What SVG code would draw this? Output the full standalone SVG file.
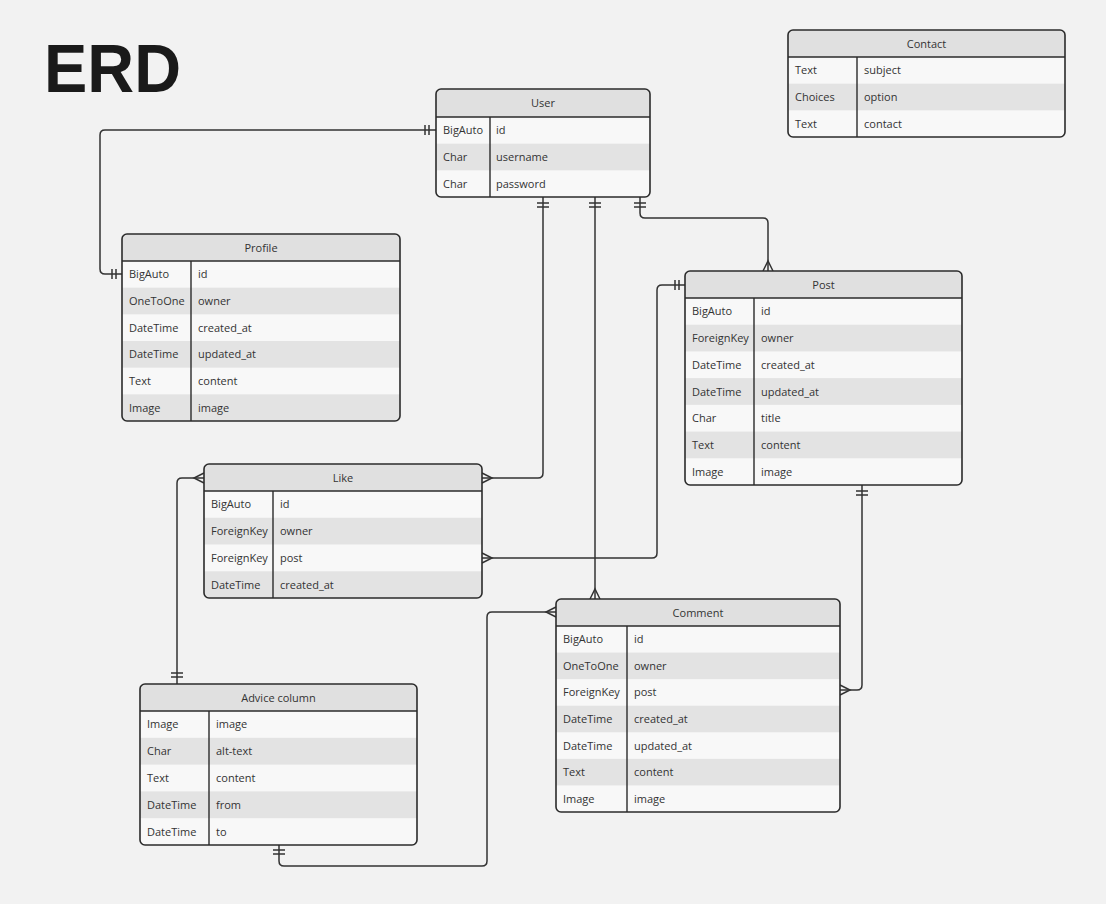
<svg xmlns="http://www.w3.org/2000/svg" width="1106" height="904" viewBox="0 0 1106 904">
<style>
.bg{fill:#f2f2f2}
.base{fill:#f8f8f8}
.hdr{fill:#e0e0e0}
.alt{fill:#e3e3e3}
.frame{fill:none;stroke:#2b2b2b;stroke-width:1.6}
.ln{stroke:#2b2b2b;stroke-width:1.4;fill:none}
.t{font-family:"Open Sans","Noto Sans","Liberation Sans",sans-serif;font-size:11px;fill:#333}
.h{font-family:"Open Sans","Noto Sans","Liberation Sans",sans-serif;font-size:11px;fill:#333;text-anchor:middle}
.c{stroke:#333;stroke-width:1.5;fill:none}
.title{font-family:"Liberation Sans",Arial,sans-serif;font-weight:bold;font-size:68px;fill:#1a1a1a}
</style>
<defs>
<clipPath id="cUser"><rect x="436" y="89" width="214" height="108" rx="5"/></clipPath>
<clipPath id="cContact"><rect x="788" y="30" width="277" height="107" rx="5"/></clipPath>
<clipPath id="cProfile"><rect x="122" y="234" width="278" height="187" rx="5"/></clipPath>
<clipPath id="cPost"><rect x="685" y="271" width="277" height="214" rx="5"/></clipPath>
<clipPath id="cLike"><rect x="204" y="464" width="278" height="134" rx="5"/></clipPath>
<clipPath id="cComment"><rect x="556" y="599" width="284" height="213" rx="5"/></clipPath>
<clipPath id="cAdvice"><rect x="140" y="684" width="277" height="161" rx="5"/></clipPath>
</defs>
<rect class="bg" x="0" y="0" width="1106" height="904"/>
<text class="title" x="44" y="92" textLength="137" lengthAdjust="spacingAndGlyphs">ERD</text>

<g id="connectors">
<!-- User id -> Profile id -->
<path class="c" d="M436,130 H105 Q100,130 100,135 V269 Q100,274 105,274 H122"/>
<path class="c" d="M425,125 V135 M429,125 V135 M112,269 V279 M116,269 V279"/>
<!-- User -> Like owner -->
<path class="c" d="M543,197 V473 Q543,478 538,478 H482"/>
<path class="c" d="M537,203 H549 M537,207 H549"/>
<path class="c" d="M482,473 L492,478 L482,483"/>
<!-- User -> Comment -->
<path class="c" d="M595,197 V599"/>
<path class="c" d="M589,203 H601 M589,207 H601"/>
<path class="c" d="M590,599 L595,589 L600,599"/>
<!-- User -> Post -->
<path class="c" d="M640,197 V213 Q640,218 645,218 H763 Q768,218 768,223 V271"/>
<path class="c" d="M634,203 H646 M634,207 H646"/>
<path class="c" d="M763,271 L768,261 L773,271"/>
<!-- Post -> Like post -->
<path class="c" d="M685,285 H662 Q657,285 657,290 V553 Q657,558 652,558 H482"/>
<path class="c" d="M675,280 V290 M679,280 V290"/>
<path class="c" d="M482,553 L492,558 L482,563"/>
<!-- Post -> Comment post -->
<path class="c" d="M862,485 V685 Q862,690 857,690 H840"/>
<path class="c" d="M856,491 H868 M856,495 H868"/>
<path class="c" d="M840,685 L850,690 L840,695"/>
<!-- Like -> Advice column -->
<path class="c" d="M204,478 H182 Q177,478 177,483 V684"/>
<path class="c" d="M204,473 L194,478 L204,483"/>
<path class="c" d="M171,673 H183 M171,677 H183"/>
<!-- Comment -> Advice column -->
<path class="c" d="M556,612 H492 Q487,612 487,617 V861 Q487,866 482,866 H284 Q279,866 279,861 V845"/>
<path class="c" d="M556,607 L546,612 L556,617"/>
<path class="c" d="M273,850 H285 M273,854 H285"/>
</g>

<g id="user">
<g clip-path="url(#cUser)">
<rect class="base" x="436" y="89" width="214" height="108"/>
<rect class="hdr" x="436" y="89" width="214" height="28"/>
<rect class="alt" x="436" y="143.67" width="214" height="26.67"/>
</g>
<path class="ln" d="M436,117 H650 M490,117 V197"/>
<rect class="frame" x="436" y="89" width="214" height="108" rx="5"/>
<text class="h" x="543" y="107">User</text>
<text class="t" x="443" y="134.3">BigAuto</text><text class="t" x="496" y="134.3">id</text>
<text class="t" x="443" y="161">Char</text><text class="t" x="496" y="161">username</text>
<text class="t" x="443" y="187.7">Char</text><text class="t" x="496" y="187.7">password</text>
</g>

<g id="contact">
<g clip-path="url(#cContact)">
<rect class="base" x="788" y="30" width="277" height="107"/>
<rect class="hdr" x="788" y="30" width="277" height="27"/>
<rect class="alt" x="788" y="83.67" width="277" height="26.67"/>
</g>
<path class="ln" d="M788,57 H1065 M857,57 V137"/>
<rect class="frame" x="788" y="30" width="277" height="107" rx="5"/>
<text class="h" x="926.5" y="47.5">Contact</text>
<text class="t" x="795" y="74.3">Text</text><text class="t" x="864" y="74.3">subject</text>
<text class="t" x="795" y="101">Choices</text><text class="t" x="864" y="101">option</text>
<text class="t" x="795" y="127.7">Text</text><text class="t" x="864" y="127.7">contact</text>
</g>

<g id="profile">
<g clip-path="url(#cProfile)">
<rect class="base" x="122" y="234" width="278" height="187"/>
<rect class="hdr" x="122" y="234" width="278" height="27"/>
<rect class="alt" x="122" y="287.67" width="278" height="26.67"/>
<rect class="alt" x="122" y="341" width="278" height="26.67"/>
<rect class="alt" x="122" y="394.33" width="278" height="26.67"/>
</g>
<path class="ln" d="M122,261 H400 M191,261 V421"/>
<rect class="frame" x="122" y="234" width="278" height="187" rx="5"/>
<text class="h" x="261" y="251.5">Profile</text>
<text class="t" x="129" y="278.3">BigAuto</text><text class="t" x="198" y="278.3">id</text>
<text class="t" x="129" y="305">OneToOne</text><text class="t" x="198" y="305">owner</text>
<text class="t" x="129" y="331.7">DateTime</text><text class="t" x="198" y="331.7">created_at</text>
<text class="t" x="129" y="358.3">DateTime</text><text class="t" x="198" y="358.3">updated_at</text>
<text class="t" x="129" y="385">Text</text><text class="t" x="198" y="385">content</text>
<text class="t" x="129" y="411.7">Image</text><text class="t" x="198" y="411.7">image</text>
</g>

<g id="post">
<g clip-path="url(#cPost)">
<rect class="base" x="685" y="271" width="277" height="214"/>
<rect class="hdr" x="685" y="271" width="277" height="27"/>
<rect class="alt" x="685" y="324.71" width="277" height="26.71"/>
<rect class="alt" x="685" y="378.14" width="277" height="26.71"/>
<rect class="alt" x="685" y="431.57" width="277" height="26.71"/>
</g>
<path class="ln" d="M685,298 H962 M754,298 V485"/>
<rect class="frame" x="685" y="271" width="277" height="214" rx="5"/>
<text class="h" x="823.5" y="288.5">Post</text>
<text class="t" x="692" y="315.4">BigAuto</text><text class="t" x="761" y="315.4">id</text>
<text class="t" x="692" y="342.1">ForeignKey</text><text class="t" x="761" y="342.1">owner</text>
<text class="t" x="692" y="368.8">DateTime</text><text class="t" x="761" y="368.8">created_at</text>
<text class="t" x="692" y="395.5">DateTime</text><text class="t" x="761" y="395.5">updated_at</text>
<text class="t" x="692" y="422.2">Char</text><text class="t" x="761" y="422.2">title</text>
<text class="t" x="692" y="448.9">Text</text><text class="t" x="761" y="448.9">content</text>
<text class="t" x="692" y="475.6">Image</text><text class="t" x="761" y="475.6">image</text>
</g>

<g id="like">
<g clip-path="url(#cLike)">
<rect class="base" x="204" y="464" width="278" height="134"/>
<rect class="hdr" x="204" y="464" width="278" height="27"/>
<rect class="alt" x="204" y="517.75" width="278" height="26.75"/>
<rect class="alt" x="204" y="571.25" width="278" height="26.75"/>
</g>
<path class="ln" d="M204,491 H482 M273,491 V598"/>
<rect class="frame" x="204" y="464" width="278" height="134" rx="5"/>
<text class="h" x="343" y="481.5">Like</text>
<text class="t" x="211" y="508.4">BigAuto</text><text class="t" x="280" y="508.4">id</text>
<text class="t" x="211" y="535.1">ForeignKey</text><text class="t" x="280" y="535.1">owner</text>
<text class="t" x="211" y="561.9">ForeignKey</text><text class="t" x="280" y="561.9">post</text>
<text class="t" x="211" y="588.6">DateTime</text><text class="t" x="280" y="588.6">created_at</text>
</g>

<g id="comment">
<g clip-path="url(#cComment)">
<rect class="base" x="556" y="599" width="284" height="213"/>
<rect class="hdr" x="556" y="599" width="284" height="27"/>
<rect class="alt" x="556" y="652.57" width="284" height="26.57"/>
<rect class="alt" x="556" y="705.71" width="284" height="26.57"/>
<rect class="alt" x="556" y="758.86" width="284" height="26.57"/>
</g>
<path class="ln" d="M556,626 H840 M627,626 V812"/>
<rect class="frame" x="556" y="599" width="284" height="213" rx="5"/>
<text class="h" x="698" y="616.5">Comment</text>
<text class="t" x="563" y="643.3">BigAuto</text><text class="t" x="634" y="643.3">id</text>
<text class="t" x="563" y="669.9">OneToOne</text><text class="t" x="634" y="669.9">owner</text>
<text class="t" x="563" y="696.4">ForeignKey</text><text class="t" x="634" y="696.4">post</text>
<text class="t" x="563" y="723">DateTime</text><text class="t" x="634" y="723">created_at</text>
<text class="t" x="563" y="749.6">DateTime</text><text class="t" x="634" y="749.6">updated_at</text>
<text class="t" x="563" y="776.2">Text</text><text class="t" x="634" y="776.2">content</text>
<text class="t" x="563" y="802.7">Image</text><text class="t" x="634" y="802.7">image</text>
</g>

<g id="advice-column">
<g clip-path="url(#cAdvice)">
<rect class="base" x="140" y="684" width="277" height="161"/>
<rect class="hdr" x="140" y="684" width="277" height="27"/>
<rect class="alt" x="140" y="737.8" width="277" height="26.8"/>
<rect class="alt" x="140" y="791.4" width="277" height="26.8"/>
</g>
<path class="ln" d="M140,711 H417 M209,711 V845"/>
<rect class="frame" x="140" y="684" width="277" height="161" rx="5"/>
<text class="h" x="278.5" y="701.5">Advice column</text>
<text class="t" x="147" y="728.4">Image</text><text class="t" x="216" y="728.4">image</text>
<text class="t" x="147" y="755.2">Char</text><text class="t" x="216" y="755.2">alt-text</text>
<text class="t" x="147" y="782">Text</text><text class="t" x="216" y="782">content</text>
<text class="t" x="147" y="808.8">DateTime</text><text class="t" x="216" y="808.8">from</text>
<text class="t" x="147" y="835.6">DateTime</text><text class="t" x="216" y="835.6">to</text>
</g>
</svg>
